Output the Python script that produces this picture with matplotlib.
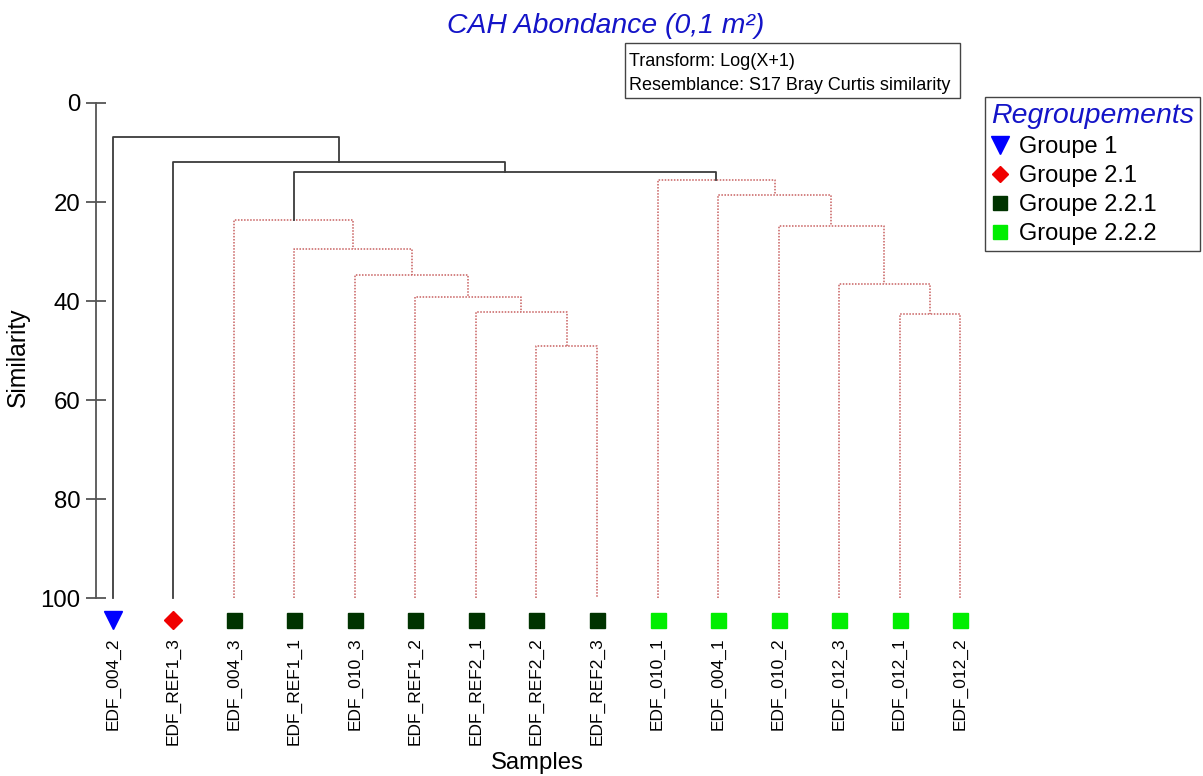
import matplotlib.pyplot as plt
from matplotlib.lines import Line2D
from matplotlib.patches import Rectangle

plt.rcParams['font.family'] = ['Liberation Sans', 'DejaVu Sans']

# leaves, left to right
samples = ["EDF_004_2", "EDF_REF1_3", "EDF_004_3", "EDF_REF1_1", "EDF_010_3",
           "EDF_REF1_2", "EDF_REF2_1", "EDF_REF2_2", "EDF_REF2_3", "EDF_010_1",
           "EDF_004_1", "EDF_010_2", "EDF_012_3", "EDF_012_1", "EDF_012_2"]
groups = ["Groupe 1", "Groupe 2.1",
          "Groupe 2.2.1", "Groupe 2.2.1", "Groupe 2.2.1", "Groupe 2.2.1",
          "Groupe 2.2.1", "Groupe 2.2.1", "Groupe 2.2.1",
          "Groupe 2.2.2", "Groupe 2.2.2", "Groupe 2.2.2", "Groupe 2.2.2",
          "Groupe 2.2.2", "Groupe 2.2.2"]

# linkage: node n_leaves + k is made from merge k (similarity %)
merge_left = [7, 6, 5, 4, 3, 2, 13, 12, 11, 10, 9, 20, 1, 0]
merge_right = [8, 15, 16, 17, 18, 19, 14, 21, 22, 23, 24, 25, 26, 27]
merge_sim = [49.0, 42.2, 39.2, 34.7, 29.5, 23.6, 42.6, 36.6, 24.8, 18.5,
             15.6, 13.9, 12.0, 6.8]

group_names = ["Groupe 1", "Groupe 2.1", "Groupe 2.2.1", "Groupe 2.2.2"]
group_markers = ["v", "D", "s", "s"]
group_colors = ["#0000ff", "#f00000", "#003300", "#00ee00"]
group_sizes = [13, 9, 10.8, 10.8]

W, H = 1203, 776
fig = plt.figure(figsize=(W / 100, H / 100), dpi=100)
ax = fig.add_axes([96 / W, 1 - 628 / H, 884 / W, 530 / H])

n = len(samples)
xpos = list(range(n))
ypos = [100.0] * n
members = [[i] for i in range(n)]
for l, r, s in zip(merge_left, merge_right, merge_sim):
    same = len({groups[i] for i in members[l] + members[r]}) == 1
    if same:
        ax.plot([xpos[l], xpos[l], xpos[r], xpos[r]], [ypos[l], s, s, ypos[r]],
                color="#c86060", lw=1.1, ls=(0, (1, 1)))
    else:
        ax.plot([xpos[l], xpos[l], xpos[r], xpos[r]], [ypos[l], s, s, ypos[r]],
                color="#3c3c3c", lw=1.3)
    xpos.append((xpos[l] + xpos[r]) / 2)
    ypos.append(s)
    members.append(members[l] + members[r])

for i, g in enumerate(groups):
    k = group_names.index(g)
    ax.plot(i, 104.4, marker=group_markers[k], color=group_colors[k],
            ms=group_sizes[k], ls="none", clip_on=False)

ax.set_xlim(-0.28, 14.33)
ax.set_ylim(106, -1)
for side in ["top", "right", "bottom"]:
    ax.spines[side].set_visible(False)
ax.spines["left"].set_bounds(0, 100)
ax.spines["left"].set_color("#555555")
ax.spines["left"].set_linewidth(1.3)
ax.set_yticks([0, 20, 40, 60, 80, 100])
ax.tick_params(axis="y", direction="inout", length=14, width=1.3,
               color="#555555", labelsize=17.3, pad=4)
ax.set_xticks(range(n))
ax.set_xticklabels(samples, rotation=90, fontsize=12.5)
ax.tick_params(axis="x", length=0, pad=6.5)
ax.set_xlabel("Samples", fontsize=17.2)
ax.xaxis.set_label_coords(0.499, -0.234)
ax.set_ylabel("Similarity", fontsize=17.8)
ax.yaxis.set_label_coords(-0.075, 0.511)

fig.text(606 / W, 1 - 26 / H, "CAH Abondance (0,1 m²)", color="#1414c8",
         style="italic", fontsize=20.4, ha="center", va="center")
fig.add_artist(Rectangle((625 / W, 1 - 98 / H), 335 / W, 55 / H,
                         transform=fig.transFigure, fill=False,
                         ec="#444444", lw=1))
fig.text(629 / W, 1 - 61 / H, "Transform: Log(X+1)", fontsize=13,
         va="center", ha="left")
fig.text(629 / W, 1 - 85 / H, "Resemblance: S17 Bray Curtis similarity",
         fontsize=13, va="center", ha="left")

handles = [Line2D([], [], marker=m, color=c, ms=s * 0.95, ls="none")
           for m, c, s in zip(group_markers, group_colors, group_sizes)]
leg = fig.legend(handles, group_names, loc="upper left",
                 bbox_to_anchor=(985 / W, 1 - 97 / H), frameon=True,
                 fancybox=False, edgecolor="#444444", framealpha=1,
                 title="Regroupements", alignment="left",
                 title_fontproperties={"style": "italic", "size": 20.5},
                 fontsize=17, handlelength=0.8, handletextpad=0.4,
                 labelspacing=0.3, borderpad=0.25, borderaxespad=0)
leg.get_title().set_color("#1414c8")
leg.get_frame().set_linewidth(1)

fig.savefig("out.png", dpi=100)
